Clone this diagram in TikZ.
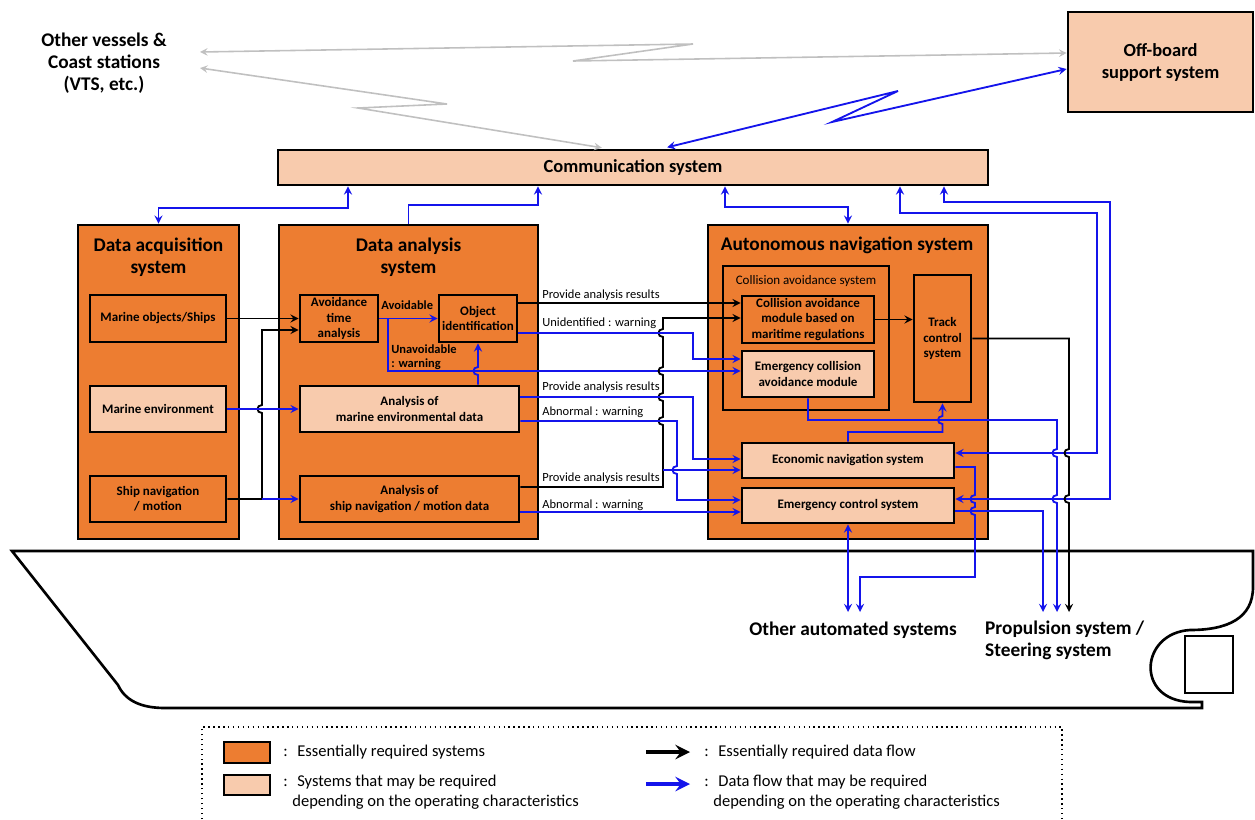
\documentclass[tikz,border=0pt]{standalone}
\usepackage{fontspec}
\setmainfont{Carlito}
\usetikzlibrary{arrows, shapes, calc}
\definecolor{essorange}{RGB}{237,125,49}
\definecolor{optpeach}{RGB}{248,203,173}
\definecolor{flowblue}{RGB}{20,20,235}
\definecolor{linkgray}{RGB}{192,192,192}
\tikzstyle{ess} = [rectangle, draw=black, line width=1.6pt, fill=essorange, inner sep=0pt, align=center, font=\fontsize{7.4}{8.6}\selectfont\bfseries]
\tikzstyle{opt} = [ess, fill=optpeach]
\tikzstyle{title} = [align=center, font=\fontsize{11}{12.5}\selectfont\bfseries]
\tikzstyle{note} = [anchor=west, align=left, inner sep=0pt, font=\fontsize{7.1}{7.8}\selectfont]
\tikzstyle{legend} = [anchor=west, align=left, inner sep=0pt, font=\fontsize{9.4}{11}\selectfont]
\tikzstyle{bflow} = [line width=1.05pt, ->, >=stealth, draw=black]
\tikzstyle{oflow} = [line width=1.05pt, ->, >=stealth, draw=flowblue]
\tikzstyle{gflow} = [line width=0.9pt, <->, >=stealth, draw=linkgray]
% small hops where lines cross
\newcommand{\hopd}[2]{-- (#1,#2-4) .. controls (#1-6,#2-4) and (#1-6,#2+4) .. (#1,#2+4)}
\newcommand{\hopu}[2]{-- (#1,#2+4) .. controls (#1-6,#2+4) and (#1-6,#2-4) .. (#1,#2-4)}

\begin{document}
\begin{tikzpicture}[x=0.02cm, y=-0.02cm]
\useasboundingbox (0,0) rectangle (1255,819);

% ship hull
\draw[line width=1.5pt] (12,551) -- (1253,551) -- (1253,587) .. controls (1253,618) and (1228,630) .. (1190,630) .. controls (1140,633) and (1135,700) .. (1190,702) -- (1202,702) -- (1202,708) -- (165,708) .. controls (140,708) and (125,700) .. (118,685) -- cycle;
\draw[line width=1.5pt] (1185,636) rectangle (1233,693);

% outside the ship
\node(ovs)[title] at (104,63) {Other vessels \&\\Coast stations\\(VTS, etc.)};
\node(offb)[opt, minimum width=3.7cm, minimum height=2cm, font=\fontsize{10.5}{12.5}\selectfont\bfseries] at (1160.5,62) {Off-board\\support system};
\node(comm)[opt, minimum width=14.2cm, minimum height=0.7cm, font=\fontsize{10.5}{12}\selectfont\bfseries] at (633,167.5) {Communication system};
\coordinate (ovs1) at (200,52);
\coordinate (ovs2) at (200,68);

% systems
\node(daq)[ess, minimum width=3.22cm, minimum height=6.28cm] at (158.5,382) {};
\node(das)[ess, minimum width=5.18cm, minimum height=6.28cm] at (408.5,382) {};
\node(ans)[ess, minimum width=5.6cm, minimum height=6.28cm] at (848,382) {};
\node(daqt)[title] at (158.5,257) {Data acquisition\\system};
\node(dast)[title] at (408.5,257) {Data analysis\\system};
\node(anst)[title] at (847,245) {Autonomous navigation system};

\node(mobj)[ess, minimum width=2.72cm, minimum height=0.94cm] at (158,318.5) {Marine objects/Ships};
\node(menv)[opt, minimum width=2.72cm, minimum height=0.92cm] at (158,409) {Marine environment};
\node(snav)[ess, minimum width=2.72cm, minimum height=0.92cm] at (158,499) {Ship navigation\\/ motion};

\node(avoid)[ess, minimum width=1.56cm, minimum height=0.94cm] at (339,318.5) {Avoidance\\time\\analysis};
\node(objid)[ess, minimum width=1.56cm, minimum height=0.94cm] at (478,318.5) {Object\\identification};
\node(aenv)[opt, minimum width=4.38cm, minimum height=0.92cm] at (409.5,409) {Analysis of\\marine environmental data};
\node(asnav)[ess, minimum width=4.38cm, minimum height=0.92cm] at (409.5,499) {Analysis of\\ship navigation / motion data};

\node(cas)[ess, minimum width=3.32cm, minimum height=2.88cm] at (806,338) {};
\node(cast)[ess, draw=none, fill=none, font=\fontsize{7.4}{8.6}\selectfont] at (806,281) {Collision avoidance system};
\node(cam)[ess, minimum width=2.64cm, minimum height=0.94cm] at (808,319.5) {Collision avoidance\\module based on\\maritime regulations};
\node(ecam)[opt, minimum width=2.64cm, minimum height=0.92cm] at (808,374) {Emergency collision\\avoidance module};
\node(track)[ess, minimum width=1.14cm, minimum height=2.54cm] at (942.5,338.5) {Track\\control\\system};
\node(econ)[opt, minimum width=4.24cm, minimum height=0.7cm] at (848,460.5) {Economic navigation system};
\node(emctl)[opt, minimum width=4.24cm, minimum height=0.7cm] at (848,505.5) {Emergency control system};

\node(oas)[title] at (853,630) {Other automated systems};
\node(pss)[title, anchor=west, align=left] at (979,640) {Propulsion system /\\Steering system};
\coordinate (oas1) at (848,612);
\coordinate (oas2) at (860,612);
\coordinate (ps1) at (1043,612);
\coordinate (ps2) at (1057,612);
\coordinate (ps3) at (1069,612);

% wireless links
\draw[gflow] (ovs1) -- (693,44) -- (573,61) -- (offb.west |- 0,53);
\draw[gflow, shorten >=3pt] (ovs2) -- (447,104) -- (358,108) -- (comm.north -| 607,0);
\draw[oflow, <->, shorten <=3pt] (comm.north -| 662,0) -- (898,91) -- (832,122) -- (offb.west |- 0,69);

% links to communication system
\draw[oflow, <->] (comm.south -| 348,0) -- (348,208) -- (158.5,208) -- (daq.north);
\draw[oflow] (das.north) -- (408.5,205) -- (538,205) -- (comm.south -| 538,0);
\draw[oflow, <->] (comm.south -| 725,0) -- (725,207) -- (848,207) -- (ans.north);
\draw[oflow, <->] (comm.south -| 900,0) -- (900,213) -- (1097,213) -- (1097,453) -- (econ.east |- 0,453);
\draw[oflow, <->] (comm.south -| 944,0) -- (944,202) -- (1110,202) -- (1110,499) -- (emctl.east |- 0,499);

% data acquisition -> data analysis
\coordinate (jsn) at (262,499);
\draw[bflow] (mobj) -- (avoid);
\draw[bflow] (snav.east) -- (jsn) \hopu{262}{409} -- (262,330) -- (avoid.west |- 0,330);
\draw[oflow] (jsn) -- (asnav);
\draw[oflow] (menv) -- (aenv);

% inside data analysis
\coordinate (javd) at (388,318.5);
\draw[oflow] (avoid) -- (objid);
\draw[oflow] (javd) -- (388,371) -- (ecam.west |- 0,371);
\draw[oflow] (aenv.north -| objid) \hopu{478}{371} -- (objid.south);
\node(avl)[note, font=\fontsize{7.1}{7.8}\selectfont\bfseries] at (381,305) {Avoidable};
\node(unavl)[note, font=\fontsize{7.1}{7.8}\selectfont\bfseries] at (391,357) {Unavoidable\\: warning};

% data analysis -> autonomous navigation
\coordinate (jcol) at (663,470);
\draw[bflow] (objid.east |- 0,303) -- (cam.west |- 0,303);
\draw[bflow] (asnav.east |- 0,487) -- (663,487) \hopu{663}{421} \hopu{663}{397} \hopu{663}{371} \hopu{663}{333} -- (663,318) -- (cam.west |- 0,318);
\draw[oflow] (jcol) -- (econ.west |- 0,470);
\draw[oflow] (objid.east |- 0,333) -- (693,333) -- (693,359) -- (ecam.west |- 0,359);
\draw[oflow] (aenv.east |- 0,397) -- (693,397) -- (693,459) -- (econ.west |- 0,459);
\draw[oflow] (aenv.east |- 0,421) -- (677,421) \hopd{677}{470} -- (677,500) -- (emctl.west |- 0,500);
\draw[oflow] (asnav.east |- 0,512) -- (emctl.west |- 0,512);
\node(l1)[note] at (542,295) {Provide analysis results};
\node(l2)[note] at (542,323) {Unidentified : warning};
\node(l3)[note] at (542,387) {Provide analysis results};
\node(l4)[note] at (542,412) {Abnormal : warning};
\node(l5)[note] at (542,478) {Provide analysis results};
\node(l6)[note] at (542,505) {Abnormal : warning};

% inside autonomous navigation and out to the ship
\draw[bflow] (cam.east) -- (track.west |- cam.east);
\draw[oflow] (econ.north) -- (848,432) -- (942.5,432) \hopu{942.5}{420} -- (track.south);
\draw[oflow] (ecam.south) -- (808,420) -- (1057,420) \hopd{1057}{453} \hopd{1057}{499} -- (ps2);
\draw[bflow] (track.east) -- (1069,338.5) \hopd{1069}{453} \hopd{1069}{499} -- (ps3);
\draw[oflow] (econ.east |- 0,467) -- (975,467) \hopd{975}{499} \hopd{975}{511} -- (975,577) -- (860,577) -- (oas2);
\draw[oflow] (emctl.east |- 0,511) -- (1043,511) -- (ps1);
\draw[oflow, <->] (emctl.south) -- (oas1);

% legend
\draw[dotted, line width=0.8pt] (202,819) -- (202,727) -- (1062,727) -- (1062,819);
\node(legess)[ess, minimum width=0.92cm, minimum height=0.42cm] at (247,752.5) {};
\node(legopt)[opt, minimum width=0.92cm, minimum height=0.4cm] at (247,785) {};
\node(legesst)[legend] at (283,752) {:\; Essentially required systems};
\node(legoptt)[legend, anchor=north west] at (283,775) {:\; Systems that may be required\\\phantom{:\;}depending on the operating characteristics};
\coordinate (lb1) at (646,752);
\coordinate (lb2) at (690,752);
\coordinate (lo1) at (646,784);
\coordinate (lo2) at (690,784);
\draw[line width=2.6pt, ->, >=stealth] (lb1) -- (lb2);
\draw[line width=2.6pt, ->, >=stealth, draw=flowblue] (lo1) -- (lo2);
\node(legbt)[legend] at (704,752) {:\; Essentially required data flow};
\node(legot)[legend, anchor=north west] at (704,775) {:\; Data flow that may be required\\\phantom{:\;}depending on the operating characteristics};
\end{tikzpicture}
\end{document}
